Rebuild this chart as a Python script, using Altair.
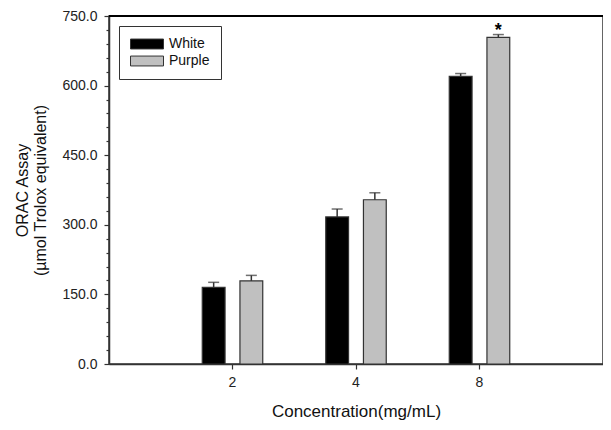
import altair as alt
import pandas as pd

concentrations = ["2", "4", "8"]
series_names = ["White", "Purple"]
white_mean = [165, 317, 620]
white_err = [11, 17, 6]
purple_mean = [179, 354, 704]
purple_err = [12, 15, 6]
white_sig = ["", "", ""]
purple_sig = ["", "", "*"]
y_tick_values = [0, 30, 60, 90, 120, 150, 180, 210, 240, 270, 300, 330, 360, 390,
                 420, 450, 480, 510, 540, 570, 600, 630, 660, 690, 720, 750]

rows = []
for name, means, errs, sigs in [("White", white_mean, white_err, white_sig),
                                ("Purple", purple_mean, purple_err, purple_sig)]:
    for c, m, e, s in zip(concentrations, means, errs, sigs):
        rows.append({"conc": c, "series": name, "mean": m, "upper": m + e, "sig": s})
df = pd.DataFrame(rows)

FONT = "Liberation Sans"

x_scale = alt.Scale(paddingInner=0, paddingOuter=0.5)
x_axis = alt.Axis(title="Concentration(mg/mL)", labelAngle=0, tickSize=5,
                  labelPadding=6, titlePadding=14, titleFontSize=17,
                  labelFontSize=14, domainColor="#333", tickColor="#333",
                  domainWidth=1.5, tickWidth=1.2, labelColor="#222",
                  titleColor="#111", titleFontWeight="normal")
y_scale = alt.Scale(domain=[0, 750], nice=False, zero=True)
y_axis = alt.Axis(
    title=["ORAC Assay", "(µmol Trolox equivalent)"],
    values=y_tick_values,
    labelExpr="datum.value % 150 === 0 ? format(datum.value, '.1f') : ''",
    tickSize={"condition": {"test": "datum.value % 150 === 0", "value": 5}, "value": 3},
    labelPadding=7, titlePadding=13, titleFontSize=16, labelFontSize=14,
    grid=False, domainColor="#333", tickColor="#333", domainWidth=1.5, tickWidth=1.2,
    labelColor="#222", titleColor="#111", titleFontWeight="normal",
    labelOverlap=False, labelBound=False, labelFlush=False,
)

x_enc = alt.X("conc:N", sort=concentrations, scale=x_scale, axis=x_axis)
xoff = alt.XOffset("series:N", sort=series_names,
                   scale=alt.Scale(domain=series_names, paddingInner=0.395, paddingOuter=0.836))

base = alt.Chart(df)

bars = base.mark_bar(stroke="#333", strokeWidth=1.2).encode(
    x=x_enc,
    xOffset=xoff,
    y=alt.Y("mean:Q", scale=y_scale, axis=y_axis),
    color=alt.Color(
        "series:N", sort=series_names,
        scale=alt.Scale(domain=series_names, range=["#000000", "#c0c0c0"]),
        legend=alt.Legend(
            title=None, orient="none", legendX=10, legendY=10,
            symbolType="M-1,-0.3H1V0.3H-1Z", symbolSize=1089,
            symbolStrokeColor="#333", symbolStrokeWidth=1,
            labelFontSize=14, labelFont=FONT, labelColor="#111",
            labelOffset=5, clipHeight=14, rowPadding=3,
            padding=11, strokeColor="#333", fillColor="white",
        ),
    ),
)

err = base.mark_rule(color="#333", strokeWidth=1.5).encode(
    x=x_enc, xOffset=xoff, y=alt.Y("mean:Q", scale=y_scale, axis=y_axis), y2="upper:Q"
)
caps = base.mark_tick(color="#333", thickness=1.5, size=11, orient="horizontal").encode(
    x=x_enc, xOffset=xoff, y=alt.Y("upper:Q", scale=y_scale, axis=y_axis)
)
stars = base.mark_text(fontSize=18, fontWeight="bold", baseline="alphabetic", dy=1,
                       color="#000", font=FONT).encode(
    x=x_enc, xOffset=xoff, y=alt.Y("upper:Q", scale=y_scale, axis=y_axis), text="sig:N"
)
top_line = alt.Chart(df).mark_rule(color="#000", strokeWidth=2.2).encode(
    y=alt.YDatum(750, scale=y_scale, axis=y_axis)
)

chart = alt.layer(bars, err, caps, stars, top_line).properties(
    width=494, height=348,
    autosize=alt.AutoSizeParams(type="none"),
    padding={"left": 101, "top": 8, "right": 0, "bottom": 56},
).configure(font=FONT).configure_view(
    stroke="#333", strokeWidth=1.5
).configure_axis(grid=False)

chart.save("out.html", embed_options={"renderer": "svg", "actions": False})
